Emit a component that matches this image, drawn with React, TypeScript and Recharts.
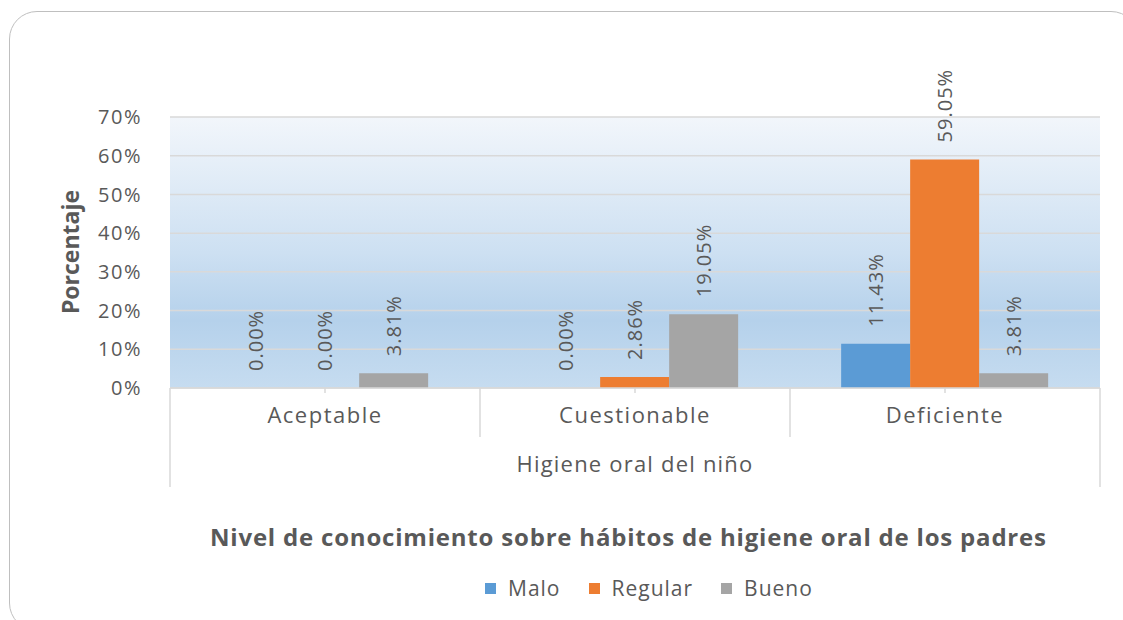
import React from 'react';
import { BarChart, Bar, XAxis, YAxis, CartesianGrid, Legend, LabelList } from 'recharts';

const categories = ['Aceptable', 'Cuestionable', 'Deficiente'];
const malo = [0, 0, 11.43];
const regular = [0, 2.86, 59.05];
const bueno = [3.81, 19.05, 3.81];
const yTicks = [0, 10, 20, 30, 40, 50, 60, 70];

const seriesNames = ['Malo', 'Regular', 'Bueno'];
const seriesColors = ['#5b9bd5', '#ed7d31', '#a5a5a5'];

const data = categories.map((name, i) => ({
  name,
  malo: malo[i],
  regular: regular[i],
  bueno: bueno[i],
}));

const W = 1123;
const H = 620;
const MARGIN = { top: 117, right: 23, bottom: 132, left: 10 };
const Y_AXIS_W = 160;
const X_AXIS_H = 100;
const PLOT_W = W - MARGIN.left - Y_AXIS_W - MARGIN.right;
const BAND = PLOT_W / categories.length;

const FONT = '"Open Sans", sans-serif';
const TEXT = '#595959';
const LINE = '#d9d9d9';

// zero-valued bars still need their label, so give them a hair of height
const keepZero = (v: any) => (Number(v) === 0 ? 0.01 : 0);

const CategoryTick = (props: any) => {
  const { x, y, payload, index } = props;
  const left = x - BAND / 2;
  const right = x + BAND / 2;
  const last = index === categories.length - 1;
  return (
    <g>
      <line x1={left} y1={y} x2={left} y2={y + (index === 0 ? 99 : 49)} stroke={LINE} strokeWidth={1.5} />
      {last && <line x1={right} y1={y} x2={right} y2={y + 99} stroke={LINE} strokeWidth={1.5} />}
      <line x1={x} y1={y} x2={x} y2={y + 5} stroke={LINE} strokeWidth={1.5} />
      <text x={x} y={y + 35} textAnchor="middle" fill={TEXT} fontSize={22} letterSpacing={1.5} fontFamily={FONT}>
        {payload.value}
      </text>
    </g>
  );
};

const ValueLabel = (props: any) => {
  const { x, y, width, value } = props;
  const cx = x + width / 2;
  const cy = y - 17;
  return (
    <text
      x={cx}
      y={cy}
      transform={`rotate(-90 ${cx} ${cy})`}
      textAnchor="start"
      dominantBaseline="central"
      fill={TEXT}
      fontSize={20}
      letterSpacing={1}
      fontFamily={FONT}
    >
      {`${Number(value).toFixed(2)}%`}
    </text>
  );
};

const LegendContent = () => (
  <div style={{ display: 'flex', alignItems: 'center', fontFamily: FONT, fontSize: 21, color: TEXT, letterSpacing: 1 }}>
    {seriesNames.map((n, i) => (
      <div key={n} style={{ display: 'flex', alignItems: 'center', marginRight: 28 }}>
        <span style={{ width: 11, height: 11, background: seriesColors[i], marginRight: 12, display: 'inline-block' }} />
        <span>{n}</span>
      </div>
    ))}
  </div>
);

export default function App() {
  return (
    <div style={{ position: 'absolute', left: 0, top: 0, width: W, height: H, overflow: 'hidden', background: '#fff' }}>
      <div
        style={{
          position: 'absolute',
          left: 9,
          top: 11,
          width: 1130,
          height: 620,
          border: '1.5px solid #bfbfbf',
          borderRadius: 28,
          boxSizing: 'border-box',
        }}
      />
      <div style={{ position: 'absolute', left: 0, top: 0 }}>
        <BarChart width={W} height={H} data={data} margin={MARGIN} barCategoryGap="16.5%" barGap={0}>
          <defs>
            <linearGradient id="plotBg" x1="0" y1="0" x2="0" y2="1">
              <stop offset="0%" stopColor="#f2f6fb" />
              <stop offset="50%" stopColor="#cde0f2" />
              <stop offset="75%" stopColor="#b5d1eb" />
              <stop offset="100%" stopColor="#c6dcf0" />
            </linearGradient>
          </defs>
          <CartesianGrid vertical={false} stroke={LINE} strokeWidth={1.5} fill="url(#plotBg)" fillOpacity={1} />
          <XAxis
            dataKey="name"
            height={X_AXIS_H}
            tickSize={0}
            tickMargin={0}
            axisLine={{ stroke: LINE, strokeWidth: 1.5 }}
            tickLine={false}
            tick={CategoryTick}
            interval={0}
            label={({ viewBox }: any) => (
              <text
                x={viewBox.x + viewBox.width / 2}
                y={viewBox.y + 84}
                textAnchor="middle"
                fill={TEXT}
                fontSize={22}
                letterSpacing={1.2}
                fontFamily={FONT}
              >
                Higiene oral del niño
              </text>
            )}
          />
          <YAxis
            width={Y_AXIS_W}
            domain={[0, 70]}
            ticks={yTicks}
            tickFormatter={(v: number) => `${v}%`}
            axisLine={false}
            tickLine={false}
            tickMargin={22}
            tick={{ fill: TEXT, fontSize: 20, fontFamily: FONT, letterSpacing: 1.5 }}
            label={({ viewBox }: any) => {
              const cx = viewBox.x + 60;
              const cy = viewBox.y + 135;
              return (
                <text
                  x={cx}
                  y={cy}
                  transform={`rotate(-90 ${cx} ${cy})`}
                  textAnchor="middle"
                  dominantBaseline="central"
                  fill={TEXT}
                  fontSize={23}
                  fontWeight={700}
                  fontFamily={FONT}
                >
                  Porcentaje
                </text>
              );
            }}
          />
          <Legend
            verticalAlign="middle"
            align="center"
            layout="horizontal"
            content={LegendContent}
            wrapperStyle={{ left: 485, top: 574, width: 'auto' }}
          />
          <Bar dataKey="malo" name="Malo" fill={seriesColors[0]} minPointSize={keepZero} isAnimationActive={false}>
            <LabelList dataKey="malo" content={ValueLabel} />
          </Bar>
          <Bar dataKey="regular" name="Regular" fill={seriesColors[1]} minPointSize={keepZero} isAnimationActive={false}>
            <LabelList dataKey="regular" content={ValueLabel} />
          </Bar>
          <Bar dataKey="bueno" name="Bueno" fill={seriesColors[2]} minPointSize={keepZero} isAnimationActive={false}>
            <LabelList dataKey="bueno" content={ValueLabel} />
          </Bar>
        </BarChart>
      </div>
      <div
        style={{
          position: 'absolute',
          left: 210,
          top: 520,
          whiteSpace: 'nowrap',
          fontFamily: FONT,
          fontSize: 24,
          fontWeight: 700,
          letterSpacing: 0.8,
          color: TEXT,
          lineHeight: '34px',
        }}
      >
        Nivel de conocimiento sobre hábitos de higiene oral de los padres
      </div>
    </div>
  );
}
